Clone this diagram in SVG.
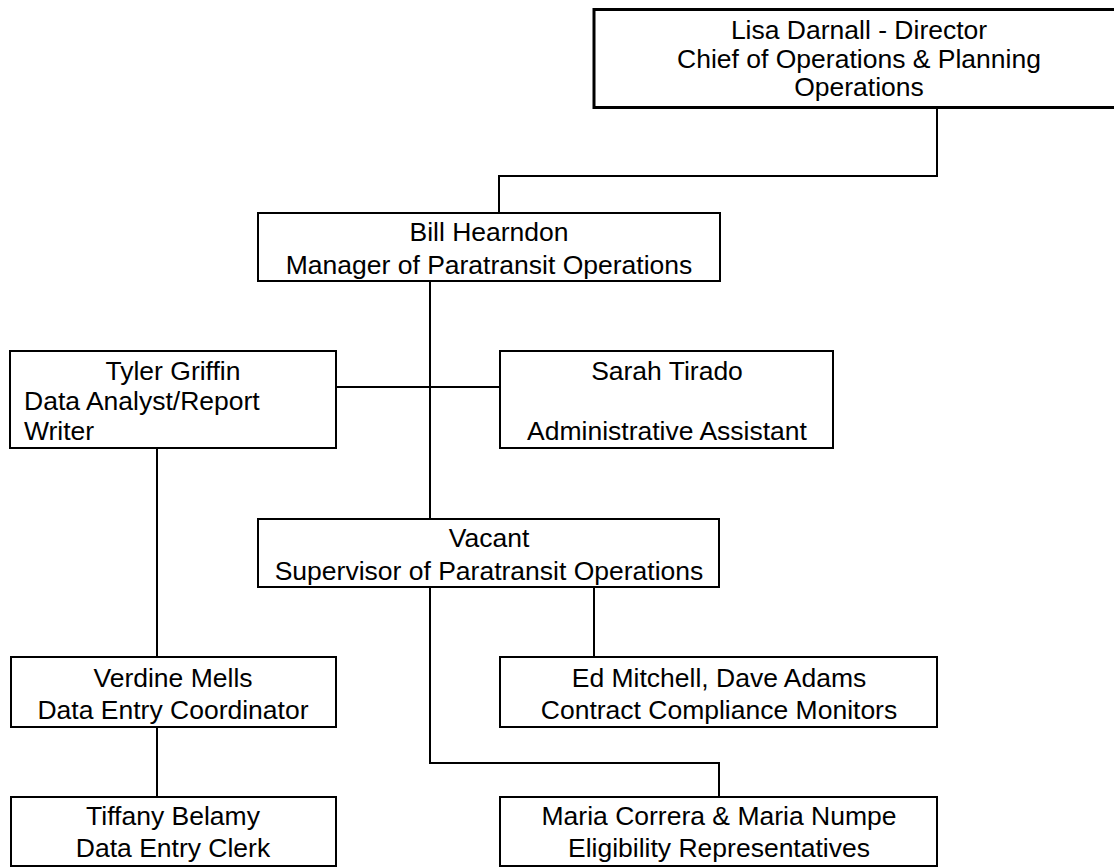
<svg xmlns="http://www.w3.org/2000/svg" width="1114" height="867" viewBox="0 0 1114 867">
<style>
.box{fill:#fff;stroke:#000;stroke-width:2}
.top{fill:#fff;stroke:#000;stroke-width:3}
.ln{fill:none;stroke:#000;stroke-width:2}
text{font-family:"Liberation Sans",Arial,sans-serif;font-size:26.5px;fill:#000}
.c{text-anchor:middle}
</style>
<rect width="1114" height="867" fill="#fff"/>
<g id="connectors">
<polyline class="ln" points="937,107 937,176 499,176 499,213"/>
<line class="ln" x1="430" y1="281" x2="430" y2="519"/>
<line class="ln" x1="336" y1="387" x2="500" y2="387"/>
<line class="ln" x1="157" y1="448" x2="157" y2="657"/>
<line class="ln" x1="594" y1="587" x2="594" y2="657"/>
<polyline class="ln" points="430,587 430,763 719,763 719,797"/>
<line class="ln" x1="157" y1="727" x2="157" y2="797"/>
</g>
<g id="director">
<rect class="top" x="594" y="9.5" width="540" height="98"/>
<text class="c" x="859" y="39">Lisa Darnall - Director</text>
<text class="c" x="859" y="67.5">Chief of Operations &amp; Planning</text>
<text class="c" x="859" y="96">Operations</text>
</g>
<g id="manager">
<rect class="box" x="258" y="213" width="462" height="68"/>
<text class="c" x="489" y="241">Bill Hearndon</text>
<text class="c" x="489" y="274">Manager of Paratransit Operations</text>
</g>
<g id="analyst">
<rect class="box" x="10" y="351" width="326" height="97"/>
<text class="c" x="173" y="380">Tyler Griffin</text>
<text x="24" y="410">Data Analyst/Report</text>
<text x="24" y="440">Writer</text>
</g>
<g id="assistant">
<rect class="box" x="500" y="351" width="333" height="97"/>
<text class="c" x="667" y="380">Sarah Tirado</text>
<text class="c" x="667" y="440">Administrative Assistant</text>
</g>
<g id="supervisor">
<rect class="box" x="258" y="519" width="461" height="68"/>
<text class="c" x="489" y="547">Vacant</text>
<text class="c" x="489" y="580">Supervisor of Paratransit Operations</text>
</g>
<g id="coordinator">
<rect class="box" x="11" y="657" width="325" height="70"/>
<text class="c" x="173" y="687">Verdine Mells</text>
<text class="c" x="173" y="719">Data Entry Coordinator</text>
</g>
<g id="monitors">
<rect class="box" x="500" y="657" width="437" height="70"/>
<text class="c" x="719" y="687">Ed Mitchell, Dave Adams</text>
<text class="c" x="719" y="719">Contract Compliance Monitors</text>
</g>
<g id="clerk">
<rect class="box" x="11" y="797" width="325" height="69"/>
<text class="c" x="173" y="825">Tiffany Belamy</text>
<text class="c" x="173" y="857">Data Entry Clerk</text>
</g>
<g id="eligibility">
<rect class="box" x="500" y="797" width="437" height="69"/>
<text class="c" x="719" y="825">Maria Correra &amp; Maria Numpe</text>
<text class="c" x="719" y="857">Eligibility Representatives</text>
</g>
</svg>
